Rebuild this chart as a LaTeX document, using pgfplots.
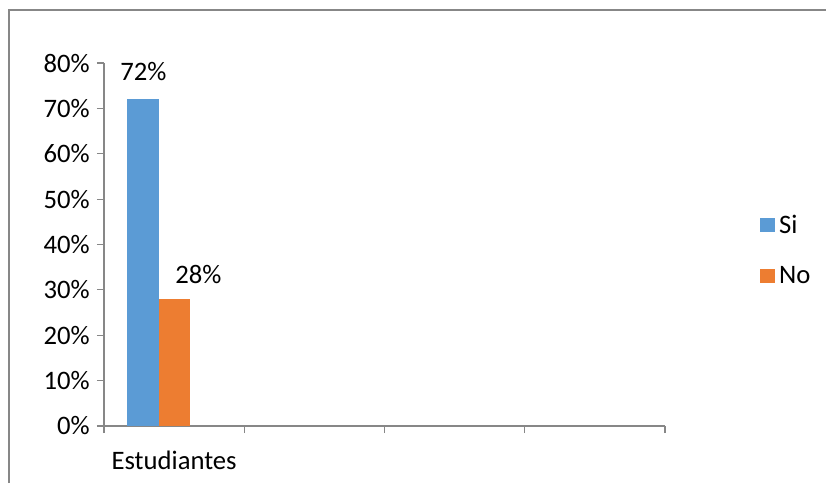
\documentclass[border=0pt]{standalone}
\usepackage{pgfplots}
\pgfplotsset{compat=1.18}
\usepackage{fontspec}
\setmainfont{Carlito}
\definecolor{sibl}{HTML}{5B9BD5}
\definecolor{noor}{HTML}{ED7D31}
\definecolor{axgr}{HTML}{878787}
\begin{document}
\begin{tikzpicture}[x=0.75pt,y=0.75pt]
\path[use as bounding box] (0,0) rectangle (826,483);
\draw[axgr, line width=0.9pt] (9,0) -- (9,473) -- (826,473);
\begin{axis}[
  at={(78pt,42.75pt)}, anchor=south west,
  scale only axis,
  width=420.75pt, height=272.25pt,
  xmin=0, xmax=4, ymin=0, ymax=80,
  axis x line=bottom, axis y line=left,
  axis line style={axgr, line width=0.9pt, -},
  every tick/.style={axgr, line width=0.9pt},
  tick align=outside, major tick length=5.25pt,
  xtick={0,1,2,3,4}, xticklabels={},
  extra x ticks={0.5}, extra x tick labels={Estudiantes},
  extra x tick style={major tick length=0pt, xticklabel style={yshift=-15.5pt}},
  ytick={0,10,...,80},
  yticklabels={0\%,10\%,20\%,30\%,40\%,50\%,60\%,70\%,80\%},
  font=\fontsize{20}{24}\selectfont,
  ticklabel style={font=\fontsize{20}{24}\selectfont},
  yticklabel style={xshift=-2pt},
  legend style={draw=none, fill=none, at={(rel axis cs:1.169,0.484)}, anchor=west,
    row sep=17.75pt, inner sep=0pt, nodes={inner sep=3pt, anchor=west},
    font=\fontsize{20}{24}\selectfont},
  legend cell align=left,
  clip=false,
]
\addplot[ybar, fill=sibl, draw=none, bar width=0.222, bar shift=-0.222,
  legend image code/.code={\fill[sibl] (0pt,-5.25pt) rectangle (11.25pt,5.25pt);}]
  coordinates {(0.5,72)};
\addlegendentry{Si}
\addplot[ybar, fill=noor, draw=none, bar width=0.224, bar shift=0.004,
  legend image code/.code={\fill[noor] (0pt,-5.25pt) rectangle (11.25pt,5.25pt);}]
  coordinates {(0.5,28)};
\addlegendentry{No}
\node at (axis cs:0.281,78.2) {72\%};
\node at (axis cs:0.673,33.3) {28\%};
\end{axis}
\end{tikzpicture}
\end{document}
